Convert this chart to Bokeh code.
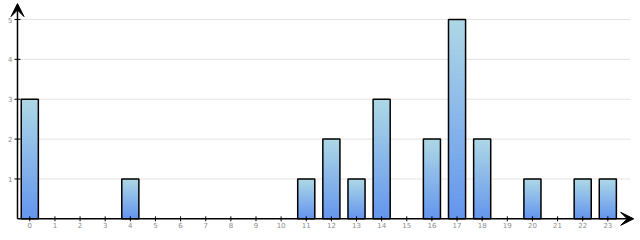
import math
from bokeh.plotting import figure
from bokeh.models import Range1d, Arrow, VeeHead
from bokeh.core.properties import value
from bokeh.embed import file_html
from bokeh.resources import INLINE

hours = list(range(24))
hour_labels = [str(h) for h in hours]
counts = [3, 0, 0, 0, 1, 0, 0, 0, 0, 0, 0, 1, 2, 1, 3, 0, 2, 5, 2, 0, 1, 0, 1, 1]
y_ticks = [1, 2, 3, 4, 5]
y_labels = [str(v) for v in y_ticks]

AX_X = -0.49          # where the y axis stands
X_END = 24.03         # tip of x-axis arrow
Y_END = 5.40          # tip of y-axis arrow
GRID_END = 23.9
BAR_W = 0.68

p = figure(width=640, height=240, output_backend="svg", toolbar_location=None,
           x_range=Range1d(-1.166, 24.30), y_range=Range1d(-0.544, 5.477),
           min_border=0, x_axis_type=None, y_axis_type=None)
p.outline_line_color = None
p.xgrid.visible = False
p.ygrid.visible = False

# grid lines
p.segment(x0=[AX_X] * len(y_ticks), y0=y_ticks, x1=[GRID_END] * len(y_ticks), y1=y_ticks,
          line_color="#e3e3e3", line_width=1)

# gradient bars
def lerp(c1, c2, t):
    return "#%02x%02x%02x" % tuple(int(round(a + (b - a) * t)) for a, b in zip(c1, c2))

top_c = (0xAD, 0xD8, 0xE6)
bot_c = (0x64, 0x95, 0xED)
N = 40
L, R, B, T, C = [], [], [], [], []
for h, v in zip(hours, counts):
    if v <= 0:
        continue
    for k in range(N):
        L.append(h - BAR_W / 2)
        R.append(h + BAR_W / 2)
        B.append(v * k / N)
        T.append(min(v, v * (k + 2) / N))
        C.append(lerp(bot_c, top_c, (k + 0.5) / N))
p.quad(left=L, right=R, bottom=B, top=T, fill_color=C, line_color=None)

bh = [h for h, v in zip(hours, counts) if v > 0]
bv = [v for v in counts if v > 0]
p.vbar(x=bh, top=bv, bottom=0, width=BAR_W, fill_color=None, line_color="black", line_width=1.5)

# ticks
p.scatter(x=[AX_X] * len(y_ticks), y=y_ticks, marker="dash", size=6,
          line_color="black", line_width=1)
p.scatter(x=hours, y=[0] * len(hours), marker="dash", size=5, angle=math.pi / 2,
          line_color="black", line_width=1)

# tick labels
p.text(x=[AX_X] * len(y_ticks), y=y_ticks, text=y_labels, x_offset=-5,
       text_align="right", text_baseline="middle", text_font=value("DejaVu Sans"),
       text_font_size="7px", text_color="#8a8a8a")
p.text(x=hours, y=[0] * len(hours), text=hour_labels, y_offset=3,
       text_align="center", text_baseline="top", text_font=value("DejaVu Sans"),
       text_font_size="7px", text_color="#8a8a8a")

# axes with arrows
p.add_layout(Arrow(end=VeeHead(size=13, fill_color="black", line_color="black", line_width=1),
                   x_start=AX_X, y_start=0, x_end=AX_X, y_end=Y_END,
                   line_color="black", line_width=1.5))
p.add_layout(Arrow(end=VeeHead(size=13, fill_color="black", line_color="black", line_width=1),
                   x_start=AX_X, y_start=0, x_end=X_END, y_end=0,
                   line_color="black", line_width=1.5))

open("out.html", "w").write(file_html(p, INLINE))
